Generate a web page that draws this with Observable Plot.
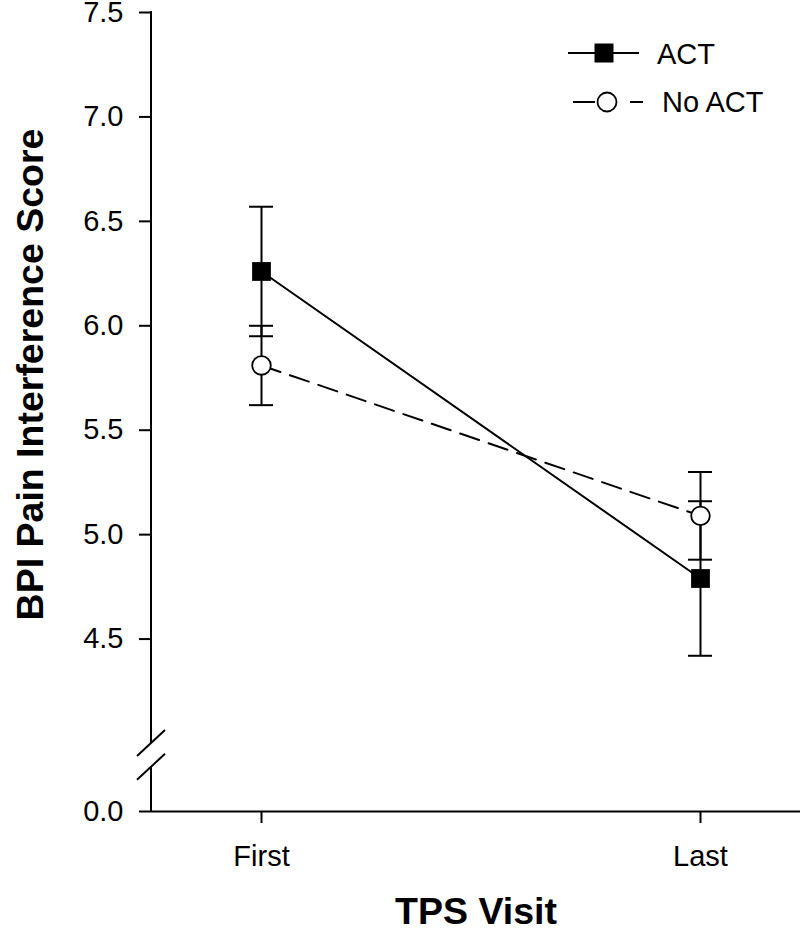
<!DOCTYPE html>
<html><head><meta charset="utf-8">
<script src="https://cdn.jsdelivr.net/npm/d3@7"></script>
<script src="https://cdn.jsdelivr.net/npm/@observablehq/plot@0.6"></script>
<style>body{margin:0;background:#fff;} #chart svg{display:block;}</style>
</head><body><div id="chart"></div>
<script>
const visits = ["First", "Last"];
const groups = ["ACT", "No ACT"];
const actMean = [6.26, 4.79];
const actErr = [0.31, 0.37];
const noActMean = [5.81, 5.09];
const noActErr = [0.19, 0.21];
const yTicks = [0, 4.5, 5.0, 5.5, 6.0, 6.5, 7.0, 7.5];
const yBreak = [4.0, 2.6]; // upper axis segment stops at 4.0, lower segment resumes at 2.6
const yTitle = "BPI Pain Interference Score";
const xTitle = "TPS Visit";

const rows = [];
visits.forEach((v, i) => {
  rows.push({visit: v, group: groups[0], mean: actMean[i], err: actErr[i]});
  rows.push({visit: v, group: groups[1], mean: noActMean[i], err: noActErr[i]});
});
rows.forEach(d => { d.lo = d.mean - d.err; d.hi = d.mean + d.err; });
const actRows = rows.filter(d => d.group === groups[0]);
const noRows = rows.filter(d => d.group === groups[1]);

const font = "'Liberation Sans', Arial, Helvetica, sans-serif";

function decorations(index, scales, values, dims) {
  const y = scales.y;
  const x0 = dims.marginLeft;
  const g = d3.create("svg:g");
  const ax = g.append("g").attr("stroke", "black").attr("stroke-width", 2).attr("fill", "none");
  ax.append("line").attr("x1", x0).attr("x2", x0).attr("y1", y(yTicks[yTicks.length - 1]) - 1).attr("y2", y(yBreak[0]));
  ax.append("line").attr("x1", x0).attr("x2", x0).attr("y1", y(yBreak[1])).attr("y2", y(0));
  for (const v of yBreak) {
    const yy = y(v);
    ax.append("line").attr("x1", x0 - 14).attr("y1", yy + 13).attr("x2", x0 + 14).attr("y2", yy - 13);
  }
  // legend
  const leg = g.append("g").attr("font-family", font).attr("font-size", 29).attr("text-anchor", "start");
  const r0 = leg.append("g").attr("transform", "translate(568,53)");
  r0.append("line").attr("x1", 0).attr("x2", 71).attr("stroke", "black").attr("stroke-width", 2);
  r0.append("rect").attr("x", 36 - 9.5).attr("y", -9.5).attr("width", 19).attr("height", 19).attr("fill", "black");
  r0.append("text").attr("x", 89).attr("y", 11).attr("fill", "black").attr("text-anchor", "start").text(groups[0]);
  const r1 = leg.append("g").attr("transform", "translate(573,102)");
  r1.append("line").attr("x1", 0).attr("x2", 70).attr("stroke", "black").attr("stroke-width", 2).attr("stroke-dasharray", "22,35,13");
  r1.append("circle").attr("cx", 34).attr("cy", 0).attr("r", 9.5).attr("fill", "white").attr("stroke", "black").attr("stroke-width", 1.8);
  r1.append("text").attr("x", 89).attr("y", 10).attr("fill", "black").attr("text-anchor", "start").text(groups[1]);
  return g.node();
}

const plot = Plot.plot({
  width: 800, height: 936,
  marginLeft: 151, marginRight: 0, marginTop: 12, marginBottom: 125,
  style: {fontFamily: font, background: "white", color: "black"},
  x: {type: "point", domain: visits, range: [261, 700], padding: 0, label: null},
  y: {type: "linear", domain: [0, yBreak[0], 7.5], range: [811, 743, 12], label: null},
  marks: [
    Plot.axisY(yTicks, {tickSize: 12, tickPadding: 16, tickFormat: d3.format(".1f"), fontSize: 29, strokeWidth: 2, label: null}),
    Plot.axisX(visits, {tickSize: 12, tickPadding: 22, fontSize: 29, strokeWidth: 2, label: null}),
    Plot.ruleY([0], {strokeWidth: 2}),
    decorations,
    Plot.ruleX(rows, {x: "visit", y1: "lo", y2: "hi", strokeWidth: 2}),
    Plot.ruleY(rows, {y: "lo", x1: "visit", x2: "visit", insetLeft: -12, insetRight: -12, strokeWidth: 2}),
    Plot.ruleY(rows, {y: "hi", x1: "visit", x2: "visit", insetLeft: -12, insetRight: -12, strokeWidth: 2}),
    Plot.line(actRows, {x: "visit", y: "mean", strokeWidth: 2}),
    Plot.line(noRows, {x: "visit", y: "mean", strokeWidth: 2, strokeDasharray: "20,10"}),
    Plot.dot(actRows, {x: "visit", y: "mean", symbol: "square", r: 10.6, fill: "black", stroke: "none"}),
    Plot.dot(noRows, {x: "visit", y: "mean", r: 9.3, fill: "white", stroke: "black", strokeWidth: 1.8}),
    Plot.text([yTitle], {frameAnchor: "left", textAnchor: "middle", rotate: -90, dx: -121, dy: -37.5, fontSize: 37.5, fontWeight: "bold"}),
    Plot.text([xTitle], {frameAnchor: "bottom", textAnchor: "middle", dy: 112, fontSize: 37.5, fontWeight: "bold"})
  ]
});
document.getElementById("chart").appendChild(plot);
</script>
</body></html>
